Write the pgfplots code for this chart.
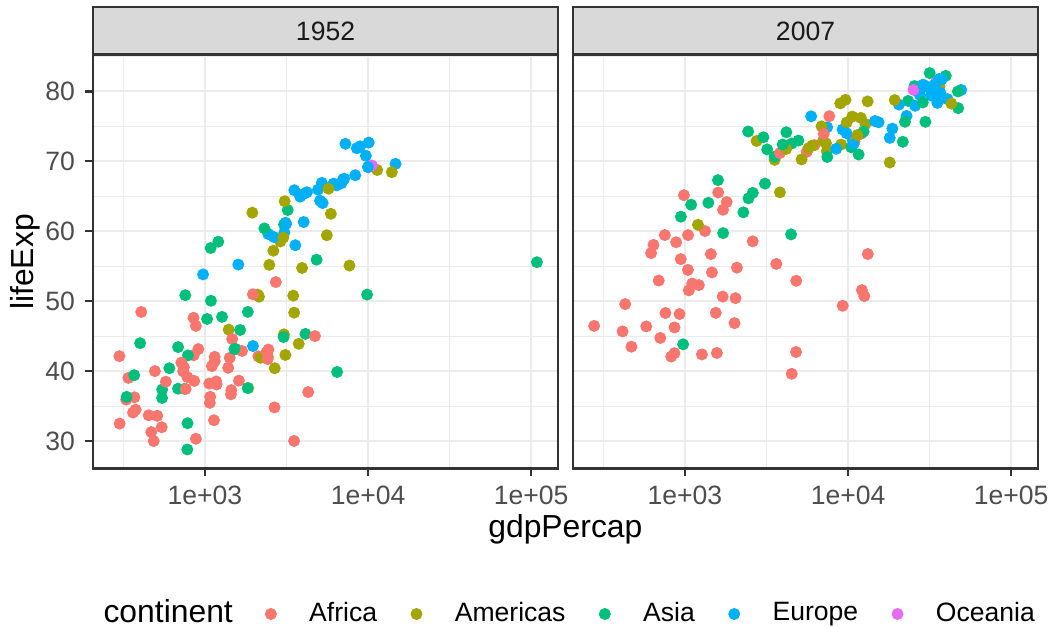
\documentclass[border=0pt]{standalone}
\usepackage{fontspec}
\setmainfont{Liberation Sans}
\usepackage{pgfplots}
\usepackage{pgfplotstable}
\pgfplotsset{compat=1.18}

\definecolor{cAfr}{HTML}{F8766D}
\definecolor{cAme}{HTML}{A3A500}
\definecolor{cAsi}{HTML}{00BF7D}
\definecolor{cEur}{HTML}{00B0F6}
\definecolor{cOce}{HTML}{E76BF3}
\definecolor{grey10}{HTML}{1A1A1A}
\definecolor{grey20}{HTML}{333333}
\definecolor{grey30}{HTML}{4D4D4D}
\definecolor{grey85}{HTML}{D9D9D9}
\definecolor{grey92}{HTML}{EBEBEB}

% gapminder, countries in data order (alphabetical)
% gdpPercap / lifeExp in 1952 (x52,y52) and 2007 (x07,y07), continent code c
\pgfplotstableread{
country x52 y52 x07 y07 c
Afghanistan 779.445 28.801 974.580 43.828 As
Albania 1601.056 55.230 5937.030 76.423 Eu
Algeria 2449.008 43.077 6223.367 72.301 Af
Angola 3520.610 30.015 4797.231 42.731 Af
Argentina 5911.315 62.485 12779.380 75.320 Am
Australia 10039.596 69.120 34435.367 81.235 Oc
Austria 6137.076 66.800 36126.493 79.829 Eu
Bahrain 9867.085 50.939 29796.048 75.635 As
Bangladesh 684.244 37.484 1391.254 64.062 As
Belgium 8343.105 68.000 33692.605 79.441 Eu
Benin 1062.752 38.223 1441.285 56.728 Af
Bolivia 2677.326 40.414 3822.137 65.554 Am
BosniaHerzegovina 973.533 53.820 7446.299 74.852 Eu
Botswana 851.241 47.622 12569.852 50.728 Af
Brazil 2108.944 50.917 9065.801 72.390 Am
Bulgaria 2444.287 59.600 10680.793 73.005 Eu
BurkinaFaso 543.255 31.975 1217.033 52.295 Af
Burundi 339.296 39.031 430.071 49.580 Af
Cambodia 368.469 39.417 1713.779 59.723 As
Cameroon 1172.668 38.523 2042.095 50.430 Af
Canada 11367.161 68.750 36319.235 80.653 Am
CentralAfricanRep 1071.311 35.463 706.016 44.741 Af
Chad 1178.666 38.092 1704.064 50.651 Af
Chile 3939.979 54.745 13171.639 78.553 Am
China 400.449 44.000 4959.115 72.961 As
Colombia 2144.115 50.643 7006.580 72.889 Am
Comoros 1102.991 40.715 986.148 65.152 Af
CongoDemRep 780.542 39.143 277.552 46.462 Af
CongoRep 2125.622 42.111 3632.558 55.322 Af
CostaRica 2627.009 57.206 9645.061 78.782 Am
CotedIvoire 1388.595 40.477 1544.750 48.328 Af
Croatia 3119.237 61.210 14619.223 75.748 Eu
Cuba 5586.539 59.421 8948.103 78.273 Am
CzechRepublic 6876.140 66.870 22833.309 76.486 Eu
Denmark 9692.385 70.780 35278.419 78.332 Eu
Djibouti 2669.530 34.812 2082.482 54.791 Af
DominicanRepublic 1397.717 45.928 6025.375 72.235 Am
Ecuador 3522.111 48.357 6873.262 74.994 Am
Egypt 1418.822 41.893 5581.181 71.338 Af
ElSalvador 3048.303 45.262 5728.354 71.878 Am
EquatorialGuinea 375.643 34.482 12154.090 51.579 Af
Eritrea 328.941 35.928 641.369 58.040 Af
Ethiopia 362.146 34.078 690.806 52.947 Af
Finland 6424.519 66.550 33207.084 79.313 Eu
France 7029.809 67.410 30470.017 80.657 Eu
Gabon 4293.476 37.003 13206.485 56.735 Af
Gambia 485.231 30.000 752.750 59.448 Af
Germany 7144.114 67.500 32170.374 79.406 Eu
Ghana 911.299 43.149 1327.609 60.022 Af
Greece 3530.690 65.860 27538.412 79.483 Eu
Guatemala 2428.238 42.023 5186.050 70.259 Am
Guinea 510.196 33.609 942.654 56.007 Af
GuineaBissau 299.850 32.500 579.232 46.388 Af
Haiti 1840.367 37.579 1201.637 60.916 Am
Honduras 2194.926 41.912 3548.331 70.198 Am
HongKong 3054.421 60.960 39724.979 82.208 As
Hungary 5263.674 64.030 18008.944 73.338 Eu
Iceland 7267.688 72.490 36180.789 81.757 Eu
India 546.566 37.373 2452.210 64.698 As
Indonesia 749.682 37.468 3540.652 70.650 As
Iran 3035.326 44.869 11605.714 70.964 As
Iraq 4129.766 45.320 4471.062 59.545 As
Ireland 5210.280 66.910 40675.996 78.885 Eu
Israel 4086.522 65.390 25523.277 80.745 As
Italy 4931.404 65.940 28569.720 80.546 Eu
Jamaica 2898.531 58.530 7320.880 72.567 Am
Japan 3216.956 63.030 31656.068 82.603 As
Jordan 1546.908 43.158 4519.461 72.535 As
Kenya 853.541 42.270 1463.249 54.110 Af
KoreaDemRep 1088.278 50.056 1593.065 67.297 As
KoreaRep 1030.592 47.453 23348.140 78.623 As
Kuwait 108382.353 55.565 47306.990 77.588 As
Lebanon 4834.804 55.928 10461.059 71.993 As
Lesotho 298.846 42.138 1569.331 42.592 Af
Liberia 575.572 38.480 414.507 45.678 Af
Libya 2387.548 42.723 12057.499 73.952 Af
Madagascar 1443.012 36.681 1044.770 59.443 Af
Malawi 369.165 36.256 759.350 48.303 Af
Malaysia 1831.133 48.463 12451.656 74.241 As
Mali 452.337 33.685 1042.582 54.467 Af
Mauritania 743.116 40.543 1803.151 64.164 Af
Mauritius 1967.956 50.986 10956.991 72.801 Af
Mexico 3478.126 50.789 11977.575 76.195 Am
Mongolia 786.567 42.244 3095.772 66.803 As
Montenegro 2647.586 59.164 9253.896 74.543 Eu
Morocco 1688.204 42.873 3820.175 71.164 Af
Mozambique 468.526 31.286 823.686 42.082 Af
Myanmar 331.000 36.319 944.000 62.069 As
Namibia 2423.780 41.725 4811.060 52.906 Af
Nepal 545.866 36.157 1091.360 63.785 As
Netherlands 8941.572 72.130 36797.933 79.762 Eu
NewZealand 10556.576 69.390 25185.009 80.204 Oc
Nicaragua 3112.364 42.314 2749.321 72.899 Am
Niger 761.879 37.444 619.677 56.867 Af
Nigeria 1077.281 36.324 2013.977 46.859 Af
Norway 10095.422 72.670 49357.190 80.196 Eu
Oman 1828.230 37.578 22316.193 75.640 As
Pakistan 684.597 43.436 2605.948 65.483 As
Panama 2480.380 55.191 9809.186 75.537 Am
Paraguay 1952.309 62.649 4172.838 71.752 Am
Peru 3758.523 43.902 7408.906 71.421 Am
Philippines 1272.881 47.752 3190.481 71.688 As
Poland 4029.330 61.310 15389.925 75.563 Eu
Portugal 3068.320 59.820 20509.648 78.098 Eu
PuertoRico 3081.960 64.280 19328.709 78.746 Am
Reunion 2718.885 52.724 7670.123 76.442 Af
Romania 3144.613 61.050 10808.476 72.476 Eu
Rwanda 493.324 40.000 863.089 46.242 Af
SaoTomePrincipe 879.584 46.471 1598.435 65.528 Af
SaudiArabia 6459.555 39.875 21654.832 72.777 As
Senegal 1450.357 37.278 1712.472 63.062 Af
Serbia 3581.459 57.996 9786.535 74.002 Eu
SierraLeone 879.788 30.331 862.541 42.568 Af
Singapore 2315.138 60.396 47143.180 79.972 As
SlovakRepublic 5074.659 64.360 18678.314 74.663 Eu
Slovenia 4215.042 65.570 25768.258 77.926 Eu
Somalia 1135.750 32.978 926.142 48.159 Af
SouthAfrica 4725.296 45.009 9269.658 49.339 Af
Spain 3834.035 64.940 28821.064 80.941 Eu
SriLanka 1083.532 57.593 3970.095 72.396 As
Sudan 1615.991 38.635 2602.395 58.556 Af
Swaziland 1148.377 41.407 4513.481 39.613 Af
Sweden 8527.845 71.860 33859.748 80.884 Eu
Switzerland 14734.233 69.620 37506.419 81.701 Eu
Syria 1643.486 45.883 4184.548 74.143 As
Taiwan 1206.947 58.500 28718.277 78.400 As
Tanzania 716.650 41.215 1107.482 52.517 Af
Thailand 757.797 50.848 7458.396 70.616 As
Togo 859.809 38.596 882.970 58.420 Af
TrinidadTobago 3023.272 59.100 18008.509 69.819 Am
Tunisia 1468.476 44.600 7092.923 73.923 Af
Turkey 1969.101 43.585 8458.276 71.777 Eu
Uganda 734.753 39.978 1056.380 51.542 Af
UnitedKingdom 9979.508 69.180 33203.261 79.425 Eu
UnitedStates 13990.482 68.440 42951.653 78.242 Am
Uruguay 5716.767 66.071 10611.463 76.384 Am
Venezuela 7689.800 55.088 11415.806 73.747 Am
Vietnam 605.067 40.412 2441.576 74.249 As
WestBankGaza 1515.592 43.160 3025.350 73.422 As
YemenRep 781.718 32.548 2280.770 62.698 As
Zambia 1147.389 42.038 1271.212 42.384 Af
Zimbabwe 406.884 48.451 469.709 43.487 Af
}\gapminder

\begin{document}
\begin{tikzpicture}
\useasboundingbox (0,0) rectangle (356.29pt,-212.89pt);

\begin{axis}[name=L, at={(31.53pt,-158.75pt)}, anchor=south west,
  scale only axis, width=157.64pt, height=140.35pt,
  xmode=log, xmin=205.96, xmax=146050, ymin=26.111, ymax=85.293,
  xtick={1000,10000,100000}, xticklabels={1e+03,1e+04,1e+05},
  minor xtick={316.23,3162.3,31623},
  ytick={30,40,50,60,70,80}, yticklabels={30,40,50,60,70,80},
  minor ytick={35,45,55,65,75,85},
  grid=both,
  major grid style={grey92, line width=0.7pt},
  minor grid style={grey92, line width=0.35pt},
  axis line style={grey20, line width=0.85pt},
  tick style={grey20, line width=0.85pt},
  major tick length=2.6pt, minor tick length=0pt,
  tick align=outside, xtick pos=bottom, ytick pos=left,
  tick label style={font=\fontsize{9}{10}\selectfont, text=grey30},
  legend columns=5,
  legend style={at={(0.3505,-0.352)}, anchor=west, draw=none, fill=none,
    font=\fontsize{9}{10}\selectfont},
  legend cell align=left]
\addplot[scatter, only marks, mark=*, mark size=1.85pt, line width=0.35pt,
  scatter src=explicit symbolic, forget plot,
  scatter/classes={Af={cAfr}, Am={cAme}, As={cAsi}, Eu={cEur}, Oc={cOce}}]
  table[x=x52, y=y52, meta=c] {\gapminder};
\addlegendimage{only marks, mark=*, mark size=1.85pt, line width=0.35pt, cAfr}
\addlegendentry{\hspace{9.15pt}Africa\hspace{9.5pt}\mbox{}}
\addlegendimage{only marks, mark=*, mark size=1.85pt, line width=0.35pt, cAme}
\addlegendentry{\hspace{9.15pt}Americas\hspace{9.5pt}\mbox{}}
\addlegendimage{only marks, mark=*, mark size=1.85pt, line width=0.35pt, cAsi}
\addlegendentry{\hspace{9.15pt}Asia\hspace{9.5pt}\mbox{}}
\addlegendimage{only marks, mark=*, mark size=1.85pt, line width=0.35pt, cEur}
\addlegendentry{\hspace{9.15pt}Europe\hspace{9.5pt}\mbox{}}
\addlegendimage{only marks, mark=*, mark size=1.85pt, line width=0.35pt, cOce}
\addlegendentry{\hspace{9.15pt}Oceania}
\end{axis}

\begin{axis}[name=R, at={(194.25pt,-158.75pt)}, anchor=south west,
  scale only axis, width=157.64pt, height=140.35pt,
  xmode=log, xmin=205.96, xmax=146050, ymin=26.111, ymax=85.293,
  xtick={1000,10000,100000}, xticklabels={1e+03,1e+04,1e+05},
  minor xtick={316.23,3162.3,31623},
  ytick={30,40,50,60,70,80}, yticklabels={},
  minor ytick={35,45,55,65,75,85},
  grid=both,
  major grid style={grey92, line width=0.7pt},
  minor grid style={grey92, line width=0.35pt},
  axis line style={grey20, line width=0.85pt},
  tick style={grey20, line width=0.85pt},
  major tick length=2.6pt, minor tick length=0pt,
  tick align=outside, xtick pos=bottom, ytick pos=left,
  ytick style={draw=none},
  tick label style={font=\fontsize{9}{10}\selectfont, text=grey30}]
\addplot[scatter, only marks, mark=*, mark size=1.85pt, line width=0.35pt,
  scatter src=explicit symbolic,
  scatter/classes={Af={cAfr}, Am={cAme}, As={cAsi}, Eu={cEur}, Oc={cOce}}]
  table[x=x07, y=y07, meta=c] {\gapminder};
\end{axis}

% facet strips
\draw[fill=grey85, draw=grey20, line width=0.85pt]
  (L.north west) rectangle ([yshift=16.03pt]L.north east);
\node[font=\fontsize{9}{10}\selectfont, text=grey10, inner sep=0pt,
  text height=6.45pt, text depth=0pt] at ([yshift=8.0pt]L.north) {1952};
\draw[fill=grey85, draw=grey20, line width=0.85pt]
  (R.north west) rectangle ([yshift=16.03pt]R.north east);
\node[font=\fontsize{9}{10}\selectfont, text=grey10, inner sep=0pt,
  text height=6.45pt, text depth=0pt] at ([yshift=8.0pt]R.north) {2007};

% axis titles and legend title
\node[font=\fontsize{10.8}{12}\selectfont, anchor=base] at (191.67pt,-182.38pt) {gdpPercap};
\node[font=\fontsize{10.8}{12}\selectfont, anchor=base, rotate=90] at (11.19pt,-88.82pt) {lifeExp};
\node[font=\fontsize{10.8}{12}\selectfont, anchor=base west, inner sep=0pt] at (34.9pt,-211.1pt) {continent};
\end{tikzpicture}
\end{document}
